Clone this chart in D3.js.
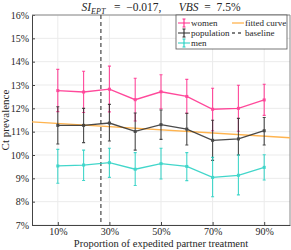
<!DOCTYPE html>
<html>
<head>
<meta charset="utf-8">
<script src="https://cdn.jsdelivr.net/npm/d3@7"></script>
<style>
  body { margin: 0; background: #fff; }
  text { font-family: "Liberation Serif", "DejaVu Serif", serif; fill: #262626; }
</style>
</head>
<body>
<div class="chart"></div>
<script>
// proportion of expedited partner treatment
const ept = [0.1, 0.2, 0.3, 0.4, 0.5, 0.6, 0.7, 0.8, 0.9];

// Ct prevalence (%) with error bar bounds
const women    = [12.76, 12.70, 12.82, 12.37, 12.71, 12.51, 11.96, 12.00, 12.36];
const womenLo  = [11.86, 11.82, 11.85, 11.46, 11.98, 11.79, 11.04, 11.02, 11.70];
const womenHi  = [13.67, 13.59, 13.81, 13.29, 13.44, 13.24, 12.86, 12.99, 13.03];

const pop      = [11.27, 11.27, 11.37, 11.01, 11.30, 11.11, 10.63, 10.69, 11.04];
const popLo    = [10.47, 10.53, 10.60, 10.21, 10.67, 10.43,  9.77, 10.00, 10.43];
const popHi    = [12.07, 12.00, 12.17, 11.80, 11.93, 11.79, 11.49, 11.57, 11.61];

const men      = [9.53, 9.57, 9.67, 9.39, 9.63, 9.51, 9.04, 9.13, 9.47];
const menLo    = [8.79, 8.91, 9.04, 8.69, 8.97, 8.90, 8.21, 8.29, 8.93];
const menHi    = [10.24, 10.21, 10.29, 10.10, 10.29, 10.10, 9.90, 10.00, 10.01];

// fitted curve end points and baseline
const fitX = [0, 1];
const fitY = [11.42, 10.74];
const baseline = 0.267;

const xTicks = [0.1, 0.3, 0.5, 0.7, 0.9];
const yTicks = [7, 8, 9, 10, 11, 12, 13, 14, 15, 16];

const W = 291, H = 250;
const margin = {top: 15, right: 1, bottom: 25, left: 32};
const w = W - margin.left - margin.right;
const h = H - margin.top - margin.bottom;

const svg = d3.select('.chart').append('svg')
  .attr('width', W)
  .attr('height', H);

const g = svg.append('g')
  .attr('transform', `translate(${margin.left},${margin.top})`);

const x = d3.scaleLinear().domain([0, 1]).range([0, w]);
const y = d3.scaleLinear().domain([7, 16]).range([h, 0]);

// grid
g.append('g').selectAll('line')
  .data(xTicks)
  .enter().append('line')
    .attr('x1', d => x(d)).attr('x2', d => x(d))
    .attr('y1', 0).attr('y2', h)
    .attr('stroke', '#ebebeb');

g.append('g').selectAll('line')
  .data(yTicks)
  .enter().append('line')
    .attr('x1', 0).attr('x2', w)
    .attr('y1', d => y(d)).attr('y2', d => y(d))
    .attr('stroke', '#ebebeb');

// axes
const xAxis = g.append('g')
  .attr('transform', `translate(0,${h})`)
  .call(d3.axisBottom(x).tickValues(xTicks).tickFormat(d3.format('.0%')).tickSizeInner(-3).tickSizeOuter(0).tickPadding(3));

const yAxis = g.append('g')
  .call(d3.axisLeft(y).tickValues(yTicks).tickFormat(d => d + '%').tickSizeInner(-3).tickSizeOuter(0).tickPadding(3));

[xAxis, yAxis].forEach(a => {
  a.selectAll('text').style('font-size', '10px').attr('fill', '#262626')
    .style('font-family', '"Liberation Serif", serif');
  a.selectAll('line').attr('stroke', '#444');
  a.select('.domain').attr('stroke', '#444');
});

// box top/right
g.append('line').attr('x1', 0).attr('x2', w).attr('y1', 0).attr('y2', 0).attr('stroke', '#888');
g.append('line').attr('x1', w).attr('x2', w).attr('y1', 0).attr('y2', h).attr('stroke', '#888');

// baseline
g.append('line')
  .attr('x1', x(baseline)).attr('x2', x(baseline))
  .attr('y1', 0).attr('y2', h)
  .attr('stroke', '#555')
  .attr('stroke-width', 1.3)
  .attr('stroke-dasharray', '4,3');

// fitted curve
const line = d3.line().x(d => x(d[0])).y(d => y(d[1]));
g.append('path')
  .datum(d3.zip(fitX, fitY))
  .attr('d', line)
  .attr('fill', 'none')
  .attr('stroke', '#ffb44f')
  .attr('stroke-width', 1.3);

function drawSeries(vals, lo, hi, color) {
  const s = g.append('g').attr('opacity', 0.85);
  const pts = ept.map((e, i) => ({x: e, v: vals[i], lo: lo[i], hi: hi[i]}));
  s.selectAll('.err')
    .data(pts)
    .enter().append('path')
      .attr('class', 'err')
      .attr('d', d => `M${x(d.x)},${y(d.lo)}V${y(d.hi)}M${x(d.x) - 1.5},${y(d.lo)}h3M${x(d.x) - 1.5},${y(d.hi)}h3`)
      .attr('fill', 'none')
      .attr('stroke', color)
      .attr('stroke-width', 1.1);
  s.append('path')
    .datum(pts)
    .attr('d', d3.line().x(d => x(d.x)).y(d => y(d.v)))
    .attr('fill', 'none')
    .attr('stroke', color)
    .attr('stroke-width', 1.3);
  s.selectAll('.pt')
    .data(pts)
    .enter().append('rect')
      .attr('x', d => x(d.x) - 1.5)
      .attr('y', d => y(d.v) - 1.5)
      .attr('width', 3).attr('height', 3)
      .attr('fill', color);
}

drawSeries(women, womenLo, womenHi, '#ff2a8a');
drawSeries(pop, popLo, popHi, '#2b2b2b');
drawSeries(men, menLo, menHi, '#22d0c2');

// legend
const lg = svg.append('g').attr('transform', 'translate(176,15)');
lg.append('rect')
  .attr('width', 111).attr('height', 34)
  .attr('fill', '#fff').attr('stroke', '#555').attr('stroke-width', 0.8);

const legendItems = [
  {label: 'women', color: '#ff2a8a', col: 0, row: 0, type: 'err'},
  {label: 'population', color: '#2b2b2b', col: 0, row: 1, type: 'err'},
  {label: 'men', color: '#22d0c2', col: 0, row: 2, type: 'err'},
  {label: 'fitted curve', color: '#ffb44f', col: 1, row: 0, type: 'line'},
  {label: 'baseline', color: '#555', col: 1, row: 1, type: 'dash'}
];

legendItems.forEach(it => {
  const ox = it.col === 0 ? 2 : 56;
  const oy = 8 + it.row * 10;
  const item = lg.append('g').attr('transform', `translate(${ox},${oy})`);
  if (it.type === 'err') {
    item.append('path')
      .attr('d', 'M0,0h12M6,-4v8M4.5,-4h3M4.5,4h3')
      .attr('stroke', it.color).attr('stroke-width', 1.1).attr('fill', 'none');
  } else if (it.type === 'line') {
    item.append('line').attr('x1', 0).attr('x2', 12)
      .attr('stroke', it.color).attr('stroke-width', 1.3);
  } else {
    item.append('line').attr('x1', 0).attr('x2', 12)
      .attr('stroke', it.color).attr('stroke-width', 1.3).attr('stroke-dasharray', '3,3');
  }
  item.append('text')
    .attr('x', 13)
    .attr('y', 3)
    .style('font-size', '9px')
    .text(it.label);
});

// title
const title = svg.append('text')
  .attr('x', margin.left + w / 2)
  .attr('y', 11)
  .attr('text-anchor', 'middle')
  .style('font-size', '11.5px')
  .style('font-style', 'italic')
  .style('white-space', 'pre');
title.append('tspan').text('SI');
title.append('tspan').attr('dy', 2.5).style('font-size', '8px').text('EPT');
title.append('tspan').attr('dy', -2.5).style('font-style', 'normal').text(' \u2002=\u2002\u22120.017,\u2003\u2002');
title.append('tspan').text('VBS');
title.append('tspan').style('font-style', 'normal').text('\u2002=\u20027.5%');

// axis labels
svg.append('text')
  .attr('x', margin.left + w / 2)
  .attr('y', H - 3)
  .attr('text-anchor', 'middle')
  .style('font-size', '10.5px')
  .text('Proportion of expedited partner treatment');

svg.append('text')
  .attr('transform', `translate(9,${margin.top + h / 2}) rotate(-90)`)
  .attr('text-anchor', 'middle')
  .style('font-size', '11px')
  .text('Ct prevalence');
</script>
</body>
</html>
